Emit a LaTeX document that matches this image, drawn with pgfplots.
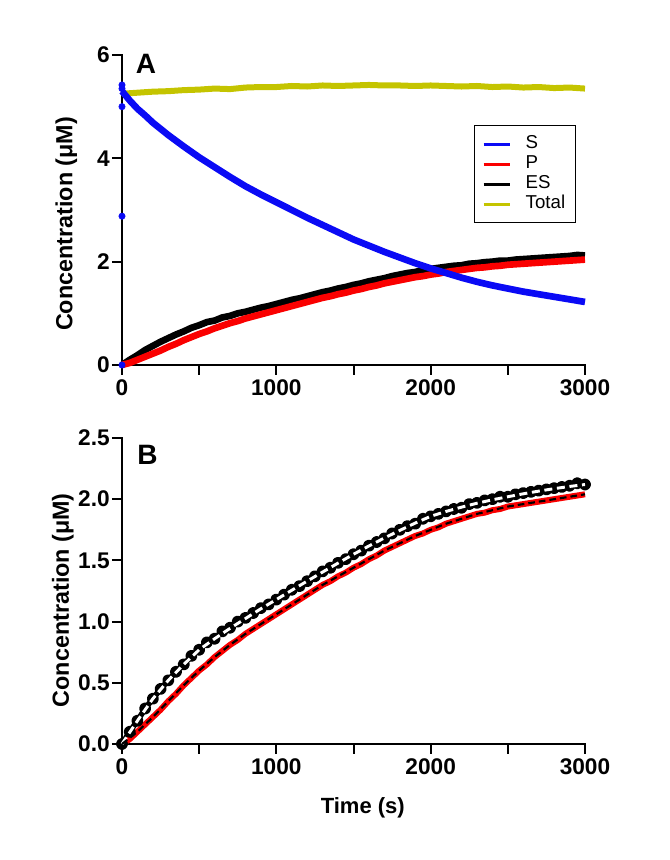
\documentclass[border=0pt]{standalone}
\usepackage{fontspec}
\setmainfont{Liberation Sans}
\usepackage{pgfplots}
\usepackage{pgfplotstable}
\pgfplotsset{compat=1.18}

\definecolor{cS}{RGB}{10,10,245}
\definecolor{cP}{RGB}{250,0,0}
\definecolor{cTot}{RGB}{196,196,0}

% ES and P, 50 s sampling
\pgfplotstableread{
t    es    p
0    0.00  0.00
50   0.10  0.04
100  0.19  0.10
150  0.29  0.16
200  0.37  0.22
250  0.45  0.28
300  0.52  0.35
350  0.59  0.41
400  0.65  0.48
450  0.72  0.54
500  0.77  0.60
550  0.83  0.65
600  0.86  0.71
650  0.92  0.76
700  0.95  0.81
750  1.00  0.85
800  1.03  0.90
850  1.07  0.94
900  1.11  0.98
950  1.14  1.02
1000 1.18  1.06
1050 1.22  1.10
1100 1.26  1.14
1150 1.29  1.18
1200 1.33  1.22
1250 1.37  1.26
1300 1.41  1.30
1350 1.44  1.33
1400 1.48  1.37
1450 1.51  1.40
1500 1.55  1.44
1550 1.58  1.47
1600 1.62  1.51
1650 1.65  1.54
1700 1.68  1.58
1750 1.72  1.61
1800 1.75  1.64
1850 1.78  1.67
1900 1.80  1.70
1950 1.84  1.72
2000 1.86  1.75
2050 1.88  1.77
2100 1.90  1.80
2150 1.92  1.82
2200 1.93  1.84
2250 1.96  1.86
2300 1.97  1.88
2350 1.99  1.89
2400 2.00  1.91
2450 2.02  1.92
2500 2.02  1.94
2550 2.04  1.95
2600 2.05  1.96
2650 2.06  1.97
2700 2.07  1.98
2750 2.08  1.99
2800 2.09  2.00
2850 2.10  2.01
2900 2.11  2.02
2950 2.13  2.03
3000 2.12  2.04
}\kin

% S and total, 100 s sampling
\pgfplotstableread{
t    s     tot
0    5.30  5.25
50   5.12  5.26
100  4.96  5.27
150  4.83  5.28
200  4.69  5.29
300  4.45  5.30
400  4.23  5.32
500  4.02  5.33
600  3.83  5.35
700  3.64  5.34
800  3.46  5.37
900  3.30  5.38
1000 3.15  5.38
1100 3.00  5.40
1200 2.85  5.39
1300 2.71  5.41
1400 2.57  5.40
1500 2.43  5.41
1600 2.31  5.42
1700 2.19  5.41
1800 2.08  5.41
1900 1.97  5.40
2000 1.87  5.41
2100 1.78  5.40
2200 1.69  5.39
2300 1.61  5.40
2400 1.54  5.38
2500 1.48  5.39
2600 1.42  5.37
2700 1.37  5.38
2800 1.32  5.36
2900 1.27  5.37
3000 1.22  5.35
}\subtot

% fitted curves
\pgfplotstableread{
t    esfit  pfit
0    0.000  0.00
100  0.190  0.10
200  0.370  0.22
300  0.520  0.35
400  0.650  0.48
500  0.770  0.60
600  0.860  0.71
700  0.945  0.81
800  1.025  0.90
900  1.105  0.98
1000 1.180  1.06
1100 1.256  1.14
1200 1.331  1.22
1300 1.405  1.30
1400 1.478  1.37
1500 1.550  1.44
1600 1.618  1.51
1700 1.683  1.58
1800 1.745  1.64
1900 1.805  1.70
2000 1.860  1.75
2100 1.900  1.80
2200 1.935  1.84
2300 1.967  1.88
2400 1.995  1.91
2500 2.020  1.94
2600 2.044  1.96
2700 2.066  1.98
2800 2.086  2.00
2900 2.104  2.02
3000 2.120  2.04
}\fits

\pgfplotsset{
  prism/.style={
    scale only axis,
    width=347.25pt,
    axis lines=left,
    axis line style={-, line width=1.5pt, line cap=rect},
    tick align=outside,
    major tick length=7.5pt,
    tick style={line width=1.5pt, black},
    xmin=0, xmax=3000,
    xtick={0,500,...,3000},
    xticklabels={0,,1000,,2000,,3000},
    tick label style={font=\fontsize{17}{17}\selectfont\bfseries},
    /pgf/number format/assume math mode=true,
    yticklabel style={inner sep=1.5pt},
    ylabel style={font=\fontsize{17.5}{17.5}\selectfont\bfseries},
    xlabel style={font=\fontsize{16.5}{16.5}\selectfont\bfseries},
    ylabel={Concentration (μM)},
    clip=false,
    set layers=standard,
  },
}

\begin{document}
\begin{tikzpicture}
\path (0,0) rectangle (502.5pt,645pt);

% panel A
\begin{axis}[prism,
  at={(91.5pt,371.25pt)}, anchor=south west,
  height=232.5pt,
  ymin=0, ymax=6, ytick={0,2,4,6},
  ylabel style={at={(axis description cs:-0.12,0.455)}, anchor=center},
  reverse legend,
  legend cell align=left,
  legend image code/.code={\draw[#1, line width=2pt, line cap=butt] (0pt,0pt) -- (20pt,0pt);},
  legend style={at={(0.76,0.774)}, anchor=north west, draw=black, line width=0.75pt,
    font=\fontsize{14}{14}\selectfont, inner xsep=6pt, inner ysep=6.5pt,
    column sep=9pt,
    nodes={text height=9.5pt, text depth=2.5pt, inner sep=1.5pt}},
]
\addplot[cTot, line width=4.5pt, line join=round] table[x=t, y=tot] {\subtot};
\addlegendentry{Total}
\addplot[black, line width=5pt, line join=round] table[x=t, y=es] {\kin};
\addlegendentry{ES}
\addplot[cP, line width=5pt, line join=round] table[x=t, y=p] {\kin};
\addlegendentry{P}
\addplot[cS, line width=5pt, line join=round] table[x=t, y=s] {\subtot};
\addlegendentry{S}
\addplot[cS, only marks, mark=*, mark size=2.4pt, forget plot] coordinates {
  (0,0) (0,2.88) (0,5.00) (0,5.42) (0,5.35)};
\node[font=\fontsize{21}{21}\selectfont\bfseries] at (axis description cs:0.052,0.972) {A};
\end{axis}

% panel B
\begin{axis}[prism,
  at={(91.5pt,87pt)}, anchor=south west,
  height=229.5pt,
  ymin=0, ymax=2.5, ytick={0,0.5,...,2.5},
  yticklabel style={/pgf/number format/.cd, fixed, fixed zerofill, precision=1},
  ylabel style={at={(axis description cs:-0.128,0.47)}, anchor=center},
  xlabel={Time (s)},
  xlabel style={at={(axis description cs:0.52,-0.209)}, anchor=center},
]
\addplot[black, line width=4.2pt, line join=round, mark=*, mark size=2.4pt] table[x=t, y=es] {\kin};
\addplot[cP, line width=4.5pt, line join=round] table[x=t, y=p] {\kin};
\addplot[white, line width=2.2pt, dash pattern=on 6pt off 3.5pt, on layer=axis foreground] table[x=t, y=esfit] {\fits};
\addplot[black, line width=1.6pt, dash pattern=on 5pt off 3pt, on layer=axis foreground] table[x=t, y=pfit] {\fits};
\node[font=\fontsize{21}{21}\selectfont\bfseries] at (axis description cs:0.055,0.944) {B};
\end{axis}
\end{tikzpicture}
\end{document}
